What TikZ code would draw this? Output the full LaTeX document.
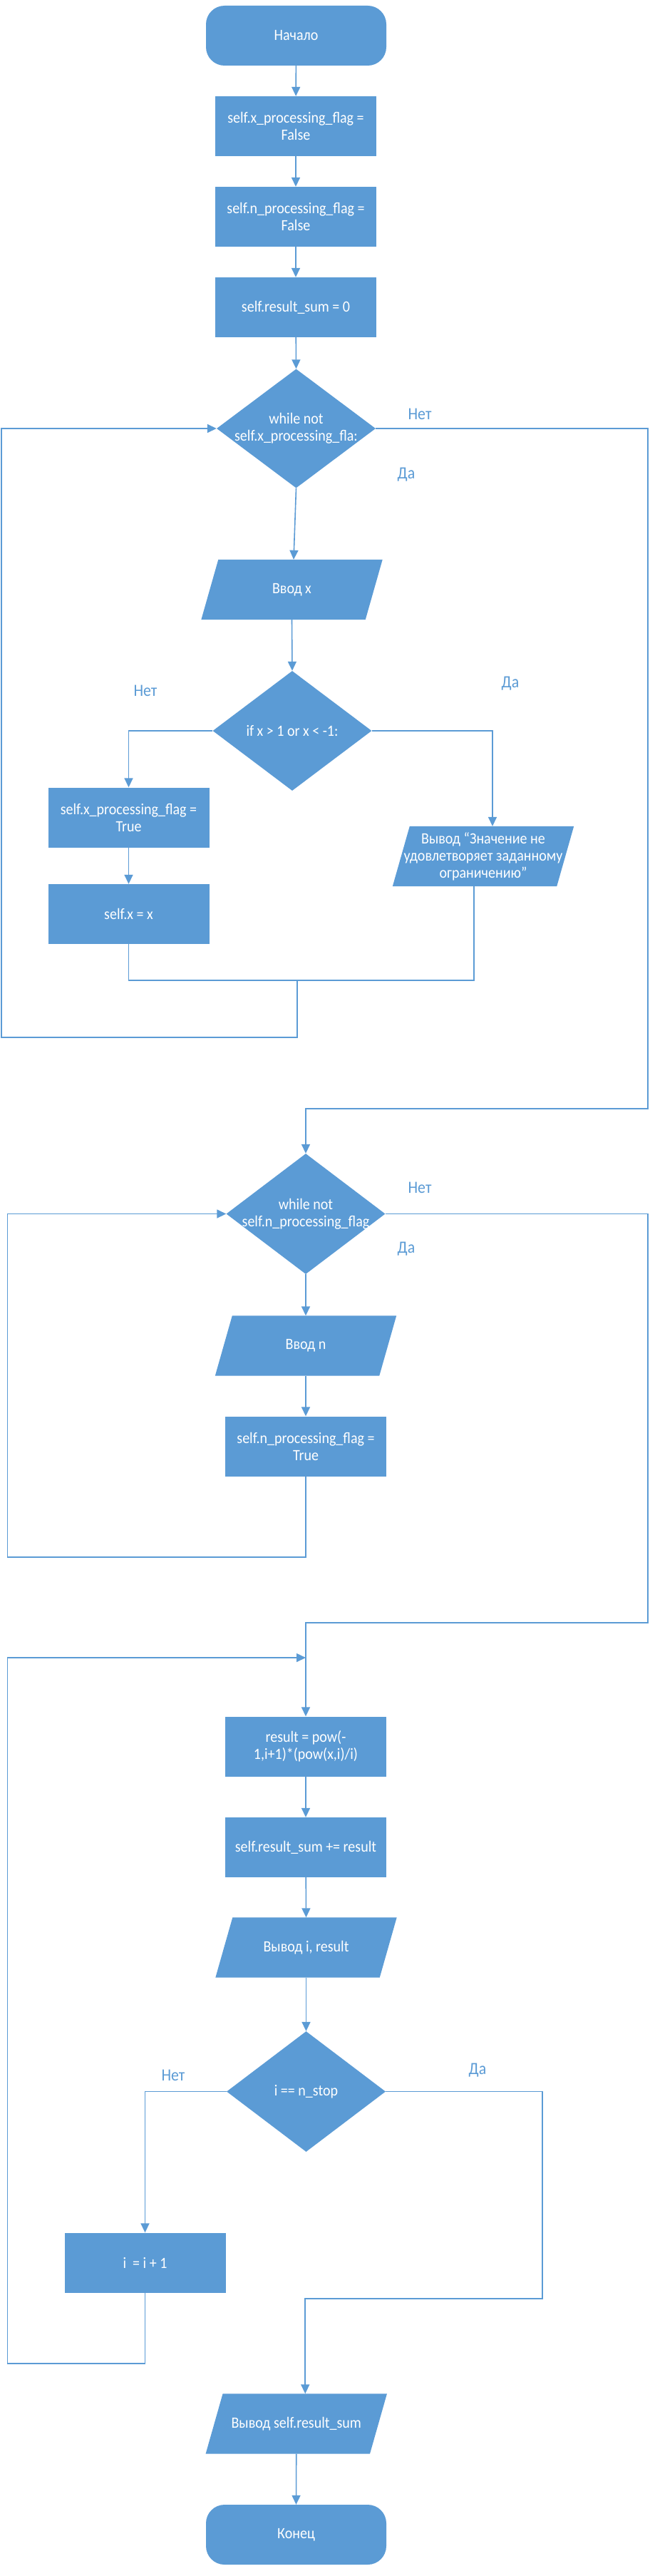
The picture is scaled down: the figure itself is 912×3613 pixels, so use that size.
\documentclass[tikz,border=0pt]{standalone}
\usepackage{fontspec}
\setmainfont{Carlito}[FakeStretch=0.91]
\usetikzlibrary{arrows.meta,shapes.geometric,backgrounds}
\definecolor{fc}{HTML}{5B9BD5}
\begin{document}
\begin{tikzpicture}[x=1pt,y=-1pt,
  every node/.style={font=\fontsize{22}{24}\selectfont},
  proc/.style={rectangle, fill=fc, text=white, minimum width=226pt, minimum height=84pt, inner sep=2pt, align=center},
  term/.style={proc, rounded corners=26pt, minimum width=253pt},
  dec/.style={diamond, fill=fc, minimum width=223pt, minimum height=168pt, inner sep=0pt},
  dtext/.style={text=white, align=center},
  iobox/.style={rectangle, text=white, minimum width=230pt, minimum height=84pt, inner sep=0pt, align=center},
  lbl/.style={text=fc, font=\fontsize{24}{26}\selectfont},
  line/.style={draw=fc, line width=1.6pt},
  arr/.style={line, -{Triangle[length=13pt,width=12pt]}},
]
\useasboundingbox (0,0) rectangle (912,3613);

% nodes
\node[term] (start) at (415.5,50) {Начало};
\node[proc] (r1) at (415,177) {self.x\_processing\_flag =\\False};
\node[proc] (r2) at (415,304) {self.n\_processing\_flag =\\False};
\node[proc] (r3) at (415,431) {self.result\_sum = 0};
\node[dec, minimum height=167pt, label={[dtext]center:{while not\\self.x\_processing\_fla:}}] (d1) at (415.5,601) {};
\node[iobox] (in1) at (409.5,827) {Ввод x};
\node[dec, label={[dtext]center:{if x > 1 or x < -1:}}] (d2) at (410,1025) {};
\node[proc] (bT) at (180.5,1146.5) {self.x\_processing\_flag =\\True};
\node[proc] (bx) at (180.5,1282) {self.x = x};
\node[iobox] (out1) at (678,1201) {Вывод “Значение не\\удовлетворяет заданному\\ограничению”};
\node[dec, minimum height=169pt, label={[dtext]center:{while not\\self.n\_processing\_flag}}] (d3) at (429,1702.5) {};
\node[iobox] (in2) at (429,1887.5) {Ввод n};
\node[proc] (bn) at (429,2028.5) {self.n\_processing\_flag =\\True};
\node[proc] (bres) at (429,2449.5) {result = pow(-\\1,i+1)*(pow(x,i)/i)};
\node[proc] (bsum) at (429,2591) {self.result\_sum += result};
\node[iobox] (out2) at (429.5,2731.5) {Вывод i, result};
\node[dec, minimum height=169pt, label={[dtext]center:{i == n\_stop}}] (d4) at (429.5,2933.5) {};
\node[proc] (binc) at (203.5,3173.5) {i\ \ = i + 1};
\node[iobox] (out3) at (415.75,3399.5) {Вывод self.result\_sum};
\node[term] (end) at (415.5,3555) {Конец};

% labels
\node[lbl] (n1) at (589,581) {Нет};
\node[lbl] (y1) at (570,666) {Да};
\node[lbl] (n2) at (204,969) {Нет};
\node[lbl] (y2) at (716,959) {Да};
\node[lbl] (n3) at (589,1666) {Нет};
\node[lbl] (y3) at (570,1752) {Да};
\node[lbl] (n4) at (243,2911) {Нет};
\node[lbl] (y4) at (670,2904) {Да};

% parallelogram bodies
\begin{pgfonlayer}{background}
\fill[white] (0,0) rectangle (912,3613);
\foreach \n in {in1,in2,out1,out2,out3}
  \fill[fc] ([xshift=12pt]\n.north west) -- ([xshift=12pt]\n.north east)
     -- ([xshift=-12pt]\n.south east) -- ([xshift=-12pt]\n.south west) -- cycle;
\end{pgfonlayer}

% helper coordinates
\coordinate (mR) at (665,1375);
\coordinate (mM) at (417,1375);
\coordinate (lb1) at (2,1455);
\coordinate (c1) at (909,1555);
\coordinate (c2) at (10.5,2184);
\coordinate (c3) at (909,2276);
\coordinate (j1) at (429,2325);
\coordinate (c4) at (10.5,3315);
\coordinate (c5) at (761,3224);

% connectors
\draw[arr] (start) -- (r1);
\draw[arr] (r1) -- (r2);
\draw[arr] (r2) -- (r3);
\draw[arr] (r3) -- (d1.north);
\draw[arr] (d1.south) -- ([xshift=2.5pt]in1.north);
\draw[arr] (in1.south) -- (d2.north);
\draw[arr] (d2.west) -| (bT.north);
\draw[arr] (d2.east) -| ([xshift=13pt]out1.north);
\draw[arr] (bT) -- (bx);
\draw[line] (bx.south) |- (mR) -- (out1.south -| mR);
\draw[arr] (mM) |- (lb1) |- (d1.west);
\draw[arr] (d1.east) -| (c1) -| (d3.north);
\draw[arr] (d3.south) -- (in2.north);
\draw[arr] (in2.south) -- (bn.north);
\draw[arr] (bn.south) |- (c2) |- (d3.west);
\draw[arr] (d3.east) -| (c3) -| (bres.north);
\draw[arr] (bres) -- (bsum);
\draw[arr] (bsum) -- (out2.north);
\draw[arr] (out2.south) -- (d4.north);
\draw[arr] (d4.west) -| (binc.north);
\draw[arr] (binc.south) |- (c4) |- (j1);
\draw[arr] (d4.east) -| (c5) -| ([xshift=12.5pt]out3.north);
\draw[arr] (out3.south) -- (end.north);
\end{tikzpicture}
\end{document}
